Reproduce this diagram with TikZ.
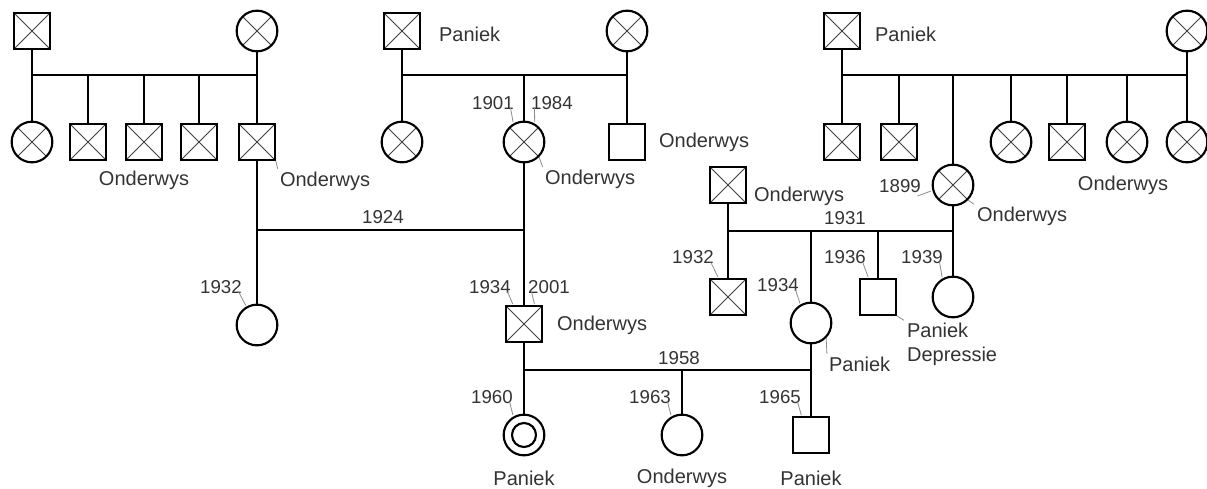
\documentclass[tikz,border=0pt]{standalone}
\usepackage{fontspec}
\setmainfont{Liberation Sans}

\tikzset{every picture/.style={line width=1.1pt}}
\tikzset{
	male/.style={draw, rectangle, minimum size=26.5pt, inner sep=0pt, line width=1.6pt},
	female/.style={draw, circle, minimum size=30.5pt, inner sep=0pt, line width=1.6pt},
	aff/.style={path picture={\draw[line width=0.6pt, black!75] (path picture bounding box.north west) -- (path picture bounding box.south east) (path picture bounding box.north east) -- (path picture bounding box.south west);}},
	ring/.style={path picture={\draw[line width=1.6pt] (path picture bounding box.center) circle (9pt);}},
	lab/.style={font=\fontsize{15}{18}\selectfont, text=black!80, inner sep=1pt},
	yr/.style={font=\fontsize{14}{16}\selectfont, text=black!80, inner sep=1pt},
	leader/.style={line width=0.6pt, black!45, shorten >=1pt},
}

\begin{document}
\begin{tikzpicture}[x=0.75pt,y=0.75pt,yscale=-1,xscale=1]
	\useasboundingbox (0,0) rectangle (1207,489);

	% line heights
	\coordinate (sib) at (0,75);
	\coordinate (m1924) at (0,230);
	\coordinate (m1931) at (0,231);
	\coordinate (m1958) at (0,370);

	% left family
	\node[male,aff] (gfL) at (32,31) {};
	\node[female,aff] (gmL) at (257,31) {};
	\node[female,aff] (cL1) at (32,142) {};
	\node[male,aff] (cL2) at (88,142) {};
	\node[male,aff] (cL3) at (144,142) {};
	\node[male,aff] (cL4) at (199,142) {};
	\node[male,aff] (cL5) at (257,142) {};
	\node[female] (p1932) at (257,325) {};

	\draw (gfL) -- (cL1);
	\draw (gmL) -- (cL5);
	\draw (cL1 |- sib) -- (cL5 |- sib);
	\foreach \c in {cL2,cL3,cL4} \draw (\c) -- (\c |- sib);
	\draw (cL5) -- (p1932);

	% middle family
	\node[male,aff] (gfM) at (402,31) {};
	\node[female,aff] (gmM) at (627,31) {};
	\node[female,aff] (cM1) at (402,142) {};
	\node[female,aff] (cM2) at (524,142) {};
	\node[male] (cM3) at (627,142) {};
	\node[male,aff] (s1934) at (524,324) {};

	\draw (gfM) -- (cM1);
	\draw (gmM) -- (cM3);
	\draw (cM1 |- sib) -- (cM3 |- sib);
	\draw (cM2) -- (cM2 |- sib);
	\draw (cM2) -- (s1934);
	\draw (cL5 |- m1924) -- (cM2 |- m1924);

	% right family
	\node[male,aff] (gfR) at (842,31) {};
	\node[female,aff] (gmR) at (1187,31) {};
	\node[male,aff] (cR1) at (842,142) {};
	\node[male,aff] (cR2) at (899,142) {};
	\node[female,aff] (cR3) at (953,185) {};
	\node[female,aff] (cR4) at (1011,142) {};
	\node[male,aff] (cR5) at (1067,142) {};
	\node[female,aff] (cR6) at (1127,142) {};
	\node[female,aff] (cR7) at (1187,142) {};

	\draw (gfR) -- (cR1);
	\draw (gmR) -- (cR7);
	\draw (cR1 |- sib) -- (cR7 |- sib);
	\foreach \c in {cR2,cR3,cR4,cR5,cR6} \draw (\c) -- (\c |- sib);

	% 1931 couple and children
	\node[male,aff] (h1931) at (728,185) {};
	\node[male,aff] (k1932) at (728,297) {};
	\node[female] (k1934) at (811,323) {};
	\node[male] (k1936) at (878,297) {};
	\node[female] (k1939) at (953,297) {};

	\draw (h1931) -- (k1932);
	\draw (cR3) -- (k1939);
	\draw (h1931 |- m1931) -- (cR3 |- m1931);
	\draw (k1934) -- (k1934 |- m1931);
	\draw (k1936) -- (k1936 |- m1931);

	% 1958 couple and children
	\node[female,ring] (g1960) at (524,435) {};
	\node[female] (g1963) at (682,435) {};
	\node[male] (g1965) at (811,435) {};

	\draw (s1934) -- (g1960);
	\draw (k1934) -- (g1965);
	\draw (s1934 |- m1958) -- (k1934 |- m1958);
	\draw (g1963) -- (g1963 |- m1958);

	% Text Node
	\node[yr] at (383,217) {1924};
	\node[yr] at (845,218) {1931};
	\node[yr] at (679,358) {1958};

	% Text Node
	\node[yr] (t1932a) at (221,287) {1932};
	\node[yr] (t1901) at (493,103) {1901};
	\node[yr] (t1984) at (552,103) {1984};
	\node[yr] (t1934a) at (490,287) {1934};
	\node[yr] (t2001) at (549,287) {2001};
	\node[yr] (t1960) at (492,397) {1960};
	\node[yr] (t1963) at (650,397) {1963};
	\node[yr] (t1965) at (780,397) {1965};
	\node[yr] (t1932b) at (693,257) {1932};
	\node[yr] (t1934b) at (778,285) {1934};
	\node[yr] (t1936) at (845,257) {1936};
	\node[yr] (t1939) at (922,257) {1939};
	\node[yr] (t1899) at (900,186) {1899};

	\draw[leader] ([xshift=-4pt,yshift=-3pt]t1932a.south east) -- (p1932.120);
	\draw[leader] ([xshift=-4pt,yshift=-3pt]t1901.south east) -- (cM2.120);
	\draw[leader] ([xshift=4pt,yshift=-3pt]t1984.south west) -- (cM2.60);
	\draw[leader] ([xshift=-4pt,yshift=-3pt]t1934a.south east) -- ([xshift=6pt]s1934.north west);
	\draw[leader] ([xshift=4pt,yshift=-3pt]t2001.south west) -- ([xshift=-6pt]s1934.north east);
	\draw[leader] ([xshift=-4pt,yshift=-3pt]t1960.south east) -- (g1960.120);
	\draw[leader] ([xshift=-4pt,yshift=-3pt]t1963.south east) -- (g1963.120);
	\draw[leader] ([xshift=-4pt,yshift=-3pt]t1965.south east) -- ([xshift=7pt]g1965.north west);
	\draw[leader] ([xshift=-4pt,yshift=-3pt]t1932b.south east) -- ([xshift=7pt]k1932.north west);
	\draw[leader] ([xshift=-4pt,yshift=-3pt]t1934b.south east) -- (k1934.120);
	\draw[leader] ([xshift=-4pt,yshift=-3pt]t1936.south east) -- ([xshift=7pt]k1936.north west);
	\draw[leader] ([xshift=-4pt,yshift=-3pt]t1939.south east) -- (k1939.120);
	\draw[leader] ([xshift=-4pt,yshift=1pt]t1899.south east) -- (cR3.195);

	% Text Node
	\node[lab] (oL) at (144,180) {Onderwys};
	\node[lab, anchor=north west] (oL5) at (278,170) {Onderwys};
	\node[lab, anchor=west] (pM) at (437,34) {Paniek};
	\node[lab, anchor=north west] (oM2) at (543,168) {Onderwys};
	\node[lab, anchor=west] (oM3) at (657,142) {Onderwys};
	\node[lab, anchor=west] (pR) at (873,34) {Paniek};
	\node[lab] (oR) at (1123,185) {Onderwys};
	\node[lab, anchor=north west] (oR3) at (975,205) {Onderwys};
	\node[lab, anchor=west] (oH) at (752,196) {Onderwys};
	\node[lab, anchor=west] (oS) at (555,325) {Onderwys};
	\node[lab, anchor=north west] (pK4) at (827,355) {Paniek};
	\node[lab, anchor=north west, align=left] (pK6) at (905,321) {Paniek\\Depressie};
	\node[lab] (p60) at (524,478) {Paniek};
	\node[lab] (o63) at (682,478) {Onderwys};
	\node[lab] (p65) at (811,478) {Paniek};

	\draw[leader] (cL5.south east) -- (oL5.north west);
	\draw[leader] (cM2.south east) -- (oM2.north west);
	\draw[leader] (cR3.south east) -- (oR3.north west);
	\draw[leader] (k1934.south east) -- (pK4.north west);
	\draw[leader] (k1936.south east) -- (pK6.north west);

\end{tikzpicture}
\end{document}
